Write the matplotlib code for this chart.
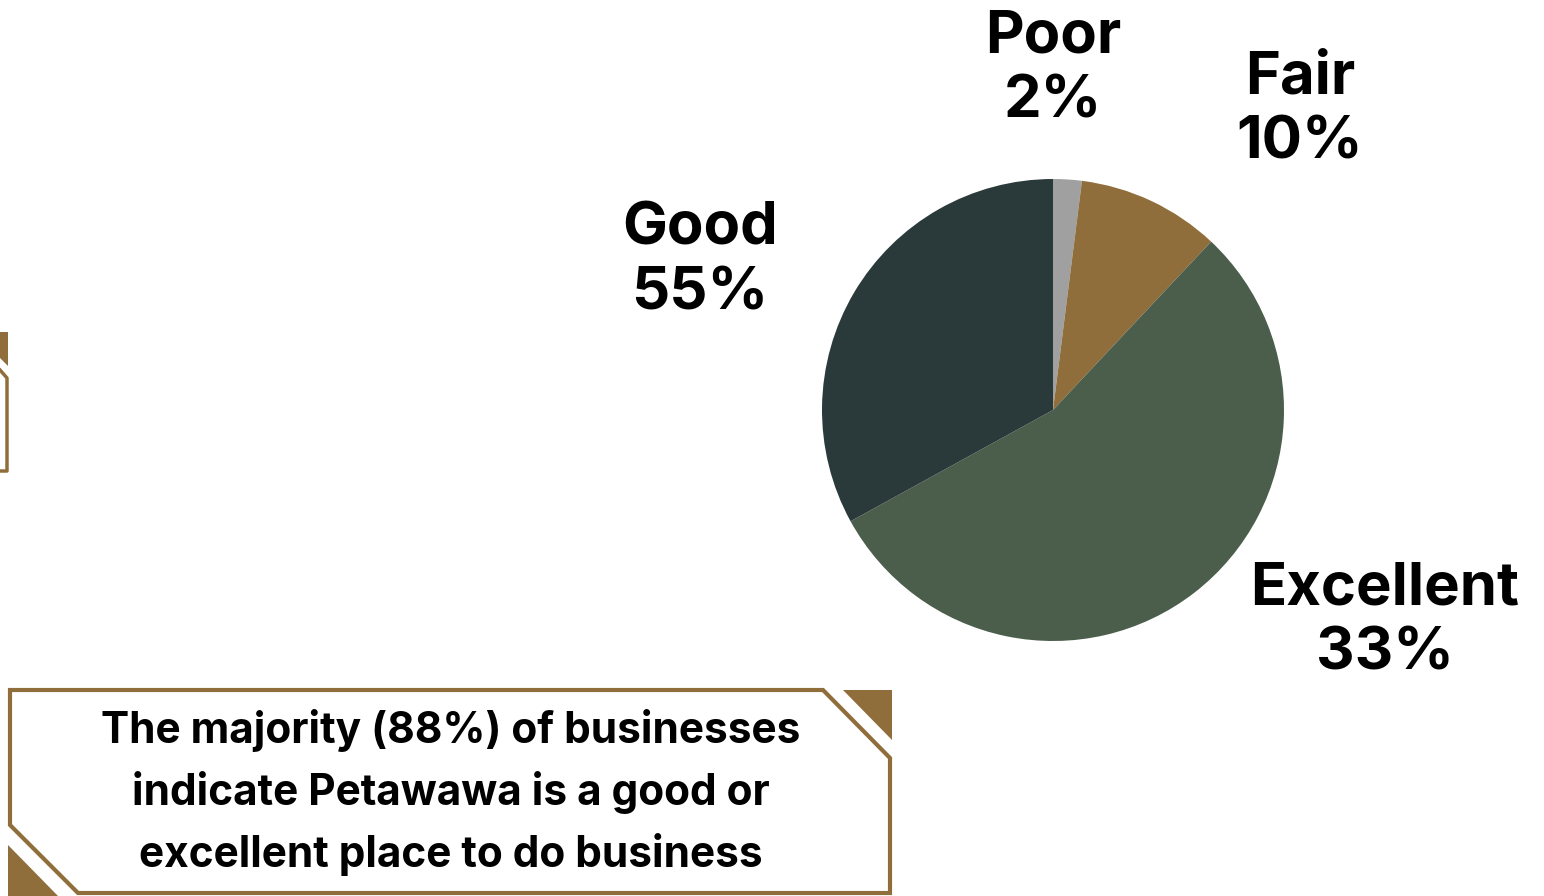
import matplotlib.pyplot as plt
from matplotlib.patches import Polygon

plt.rcParams['font.family'] = ['Inter', 'DejaVu Sans']

ratings = ['Poor', 'Fair', 'Good', 'Excellent']
shares = [2, 10, 55, 33]
colors = ['#a0a0a0', '#8f6e3b', '#4a5e4b', '#2a3a3a']
summary = ['The majority (88%) of businesses',
           'indicate Petawawa is a good or',
           'excellent place to do business']

W, H = 1544, 896
bronze = '#8f6e3b'

fig = plt.figure(figsize=(W / 100, H / 100), dpi=100)
ax = fig.add_axes([0, 0, 1, 1])


def px(x, y):
    # pixel coords measured from the top-left corner
    return (x, H - y)


ax.pie(shares, colors=colors, startangle=90, counterclock=False,
       center=px(1053, 410), radius=231, wedgeprops=dict(linewidth=0))

# pie() resets the limits, so fix the canvas afterwards
ax.set_xlim(0, W)
ax.set_ylim(0, H)
ax.set_aspect('equal')
ax.axis('off')

# slice labels, one text per line
label_pos = [(1053, 37), (1300, 78), (700, 229), (1385, 589)]
for name, val, (x, y) in zip(ratings, shares, label_pos):
    for k, s in enumerate([name, f'{val}%']):
        ax.text(*px(x, y + 65 * k), s, ha='center', va='center',
                fontsize=43, fontweight='bold', color='black')

# callout box
box = [(10, 690), (823, 690), (890, 758), (890, 893), (78, 893), (10, 825)]
ax.add_patch(Polygon([px(*p) for p in box], closed=True, fill=False,
                     edgecolor=bronze, linewidth=3))
ax.add_patch(Polygon([px(843, 690), px(892, 690), px(892, 740)],
                     color=bronze, linewidth=0))
ax.add_patch(Polygon([px(8, 845), px(8, 896), px(58, 896)],
                     color=bronze, linewidth=0))

# partial frame on the left edge
ax.add_patch(Polygon([px(0, 332), px(8, 332), px(8, 366), px(0, 358)],
                     color=bronze, linewidth=0))
ax.plot(*zip(px(0, 370), px(7, 378), px(7, 471), px(0, 471)),
        color=bronze, linewidth=2.5)

for i, line in enumerate(summary):
    ax.text(*px(451, 731 + 62 * i), line, ha='center', va='center',
            fontsize=30.5, fontweight='bold', color='black')

fig.savefig('out.png', dpi=100)
